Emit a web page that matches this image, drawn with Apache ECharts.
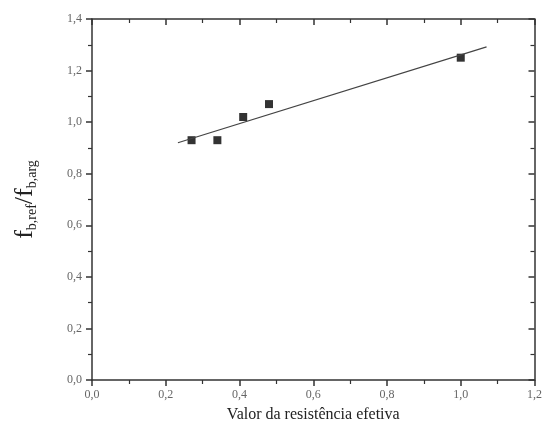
<!DOCTYPE html>
<html><head><meta charset="utf-8">
<script src="https://cdn.jsdelivr.net/npm/echarts@6/dist/echarts.min.js"></script>
<style>html,body{margin:0;padding:0;background:#fff}#c{width:545px;height:433px}</style>
</head><body><div id="c"></div>
<script>
const pointsX = [0.27, 0.34, 0.41, 0.48, 1.0];
const pointsY = [0.93, 0.93, 1.02, 1.07, 1.25];
const fitX = [0.233, 1.07];
const fitY = [0.92, 1.292];
const xTicks = [0, 0.2, 0.4, 0.6, 0.8, 1.0, 1.2];
const yTicks = [0, 0.2, 0.4, 0.6, 0.8, 1.0, 1.2, 1.4];

const fmt = v => v.toFixed(1).replace('.', ',');
const font = 'Liberation Serif';
const axisLine = {show: true, onZero: false, lineStyle: {color: '#333', width: 1.5}};
const baseAxis = (min, max, inside) => ({
  type: 'value', min: min, max: max, interval: 0.2,
  axisLine: axisLine,
  axisTick: {show: true, inside: inside, length: 6, lineStyle: {color: '#333', width: 1.5}},
  minorTick: {show: true, splitNumber: 2, length: 4, lineStyle: {color: '#333', width: 1.2}},
  splitLine: {show: false},
  minorSplitLine: {show: false}
});

const chart = echarts.init(document.getElementById('c'), null, {renderer: 'canvas'});
chart.setOption({
  animation: false,
  backgroundColor: '#fff',
  grid: {left: 92, top: 19, right: 10, bottom: 53},
  xAxis: [
    Object.assign(baseAxis(xTicks[0], xTicks[xTicks.length-1], false), {
      position: 'bottom',
      axisLabel: {formatter: fmt, color: '#666', fontFamily: font, fontSize: 12, margin: 9},
      name: 'Valor da resistência efetiva', nameLocation: 'middle', nameGap: 27,
      nameTextStyle: {fontFamily: font, fontSize: 16, color: '#222'}
    }),
    Object.assign(baseAxis(xTicks[0], xTicks[xTicks.length-1], true), {
      position: 'top', axisLabel: {show: false}
    })
  ],
  yAxis: [
    Object.assign(baseAxis(yTicks[0], yTicks[yTicks.length-1], false), {
      position: 'left',
      axisLabel: {formatter: fmt, color: '#666', fontFamily: font, fontSize: 12, margin: 10},
      name: '{f|f}{s|b,ref}{f|/f}{s|b,arg}', nameLocation: 'middle', nameGap: 53, nameRotate: 90,
      nameTextStyle: {
        fontFamily: font, color: '#222',
        rich: {
          f: {fontFamily: font, fontSize: 26, color: '#222'},
          s: {fontFamily: font, fontSize: 14, color: '#222', padding: [14, 0, 0, 0]}
        }
      }
    }),
    Object.assign(baseAxis(yTicks[0], yTicks[yTicks.length-1], true), {
      position: 'right', axisLabel: {show: false}
    })
  ],
  series: [
    {
      type: 'line', data: fitX.map((x, i) => [x, fitY[i]]),
      symbol: 'none', lineStyle: {color: '#444', width: 1.2}, silent: true
    },
    {
      type: 'scatter', data: pointsX.map((x, i) => [x, pointsY[i]]),
      symbol: 'rect', symbolSize: 8, itemStyle: {color: '#000'}
    }
  ]
});
</script></body></html>
